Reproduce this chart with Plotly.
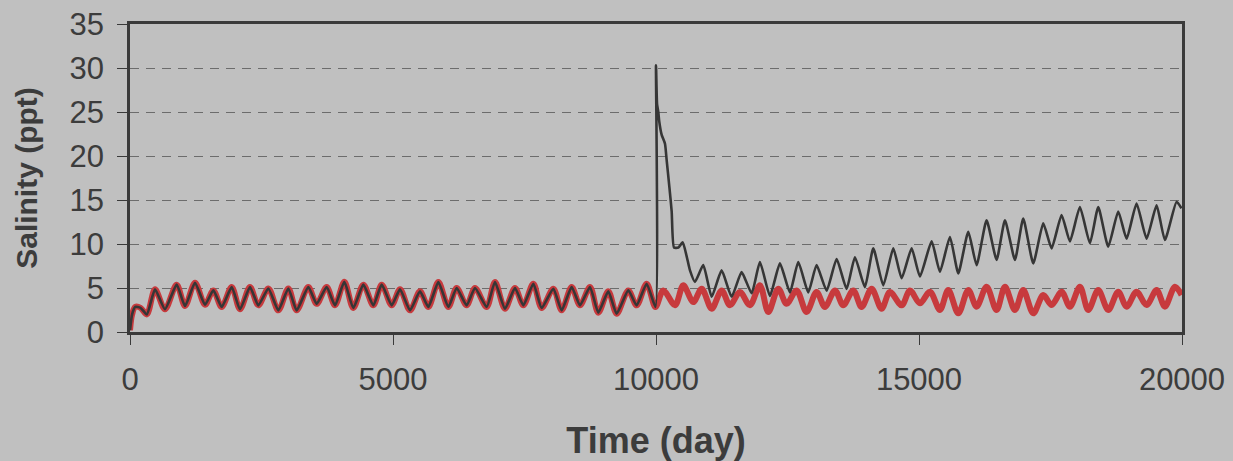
import plotly.graph_objects as go

# ---- data ----
t_first = [0, 40, 100, 200, 320, 475, 665, 887, 1046, 1236, 1426, 1584, 1743, 1933, 2091,
           2281, 2440, 2630, 2820, 3010, 3168, 3390, 3549, 3739, 3897, 4075, 4245, 4436,
           4626, 4785, 4975, 5133, 5323, 5513, 5672, 5862, 6052, 6210, 6400, 6559, 6781,
           6939, 7129, 7319, 7478, 7668, 7826, 8048, 8206, 8396, 8555, 8745, 8903, 9093,
           9252, 9473, 9632, 9822, 9990]
s_first = [0.2, 2.0, 2.85, 2.75, 2.0, 4.85, 2.58, 5.38, 2.95, 5.6, 3.1, 4.73, 2.84, 5.1, 2.58,
           5.1, 3.03, 4.95, 2.46, 4.95, 2.46, 5.1, 3.2, 5.1, 3.03, 5.7, 2.73, 5.38,
           3.03, 5.38, 3.03, 4.85, 2.46, 4.62, 2.84, 5.68, 2.84, 5.0, 3.03, 5.0, 2.84,
           5.68, 2.65, 5.0, 3.03, 5.49, 2.73, 4.92, 2.46, 5.11, 3.03, 5.11, 2.2, 4.62,
           2.08, 4.73, 3.03, 5.49, 2.84]

t_black2 = [10000, 10020, 10044, 10060, 10108, 10171, 10203, 10254, 10298, 10342, 10425,
            10508, 10583, 10646, 10741, 10899, 11058, 11248, 11438, 11628, 11818, 11976,
            12166, 12356, 12546, 12705, 12895, 13053, 13244, 13434, 13624, 13782, 13972,
            14131, 14321, 14511, 14670, 14860, 15018, 15240, 15398, 15588, 15747, 15937,
            16095, 16285, 16475, 16634, 16824, 16982, 17172, 17362, 17521, 17711, 17869,
            18059, 18249, 18408, 18598, 18788, 18947, 19136, 19327, 19517, 19675, 19897,
            19990]
s_black2 = [30.3, 25.9, 25.0, 24.0, 22.4, 21.4, 19.5, 16.5, 13.7, 9.6, 9.6,
            10.2, 8.6, 7.0, 5.7, 7.6, 4.0, 7.0, 4.0, 6.8, 4.4, 7.95,
            4.1, 7.8, 4.5, 7.95, 4.5, 7.6, 4.7, 8.3, 4.9, 8.5, 5.1,
            9.5, 5.3, 9.5, 6.1, 9.5, 6.3, 10.3, 6.85, 10.8, 6.66, 11.4,
            7.6, 12.7, 8.2, 12.7, 8.2, 12.9, 7.8, 12.35, 9.5, 13.3, 10.3,
            14.2, 10.1, 14.2, 9.7, 13.7, 10.6, 14.6, 10.6, 14.4, 10.45, 14.8,
            14.05]

t_red2 = [10139, 10361, 10519, 10709, 10868, 11058, 11248, 11406, 11596, 11786, 11976,
          12135, 12325, 12483, 12673, 12863, 13053, 13212, 13402, 13560, 13750, 13909,
          14099, 14289, 14447, 14670, 14828, 15018, 15208, 15398, 15556, 15747, 15937,
          16095, 16285, 16475, 16634, 16824, 16982, 17172, 17362, 17521, 17711, 17869,
          18059, 18218, 18408, 18598, 18788, 18947, 19136, 19327, 19517, 19675, 19865,
          19992]
s_red2 = [4.73, 3.03, 5.3, 3.4, 4.92, 2.65, 4.73, 3.03, 4.55, 3.03, 5.3,
          2.27, 4.92, 3.2, 4.73, 2.27, 4.55, 2.84, 4.73, 3.03, 4.73, 2.84,
          4.92, 2.65, 4.55, 3.03, 4.73, 3.26, 4.58, 2.5, 4.77, 2.12, 4.77,
          2.88, 5.15, 2.5, 5.15, 2.5, 4.77, 2.12, 4.2, 3.07, 4.58, 2.88,
          5.15, 2.5, 4.77, 2.5, 4.58, 2.88, 4.58, 3.07, 4.77, 2.88, 5.15,
          4.2]

y_ticks = [0, 5, 10, 15, 20, 25, 30, 35]
x_ticks = [0, 5000, 10000, 15000, 20000]

TEXT = "#3c3c3c"
BG = "#c0c0c0"
FONT = "Liberation Sans, Arial, sans-serif"

fig = go.Figure()
fig.add_trace(go.Scatter(
    x=t_first + t_red2, y=s_first + s_red2, mode="lines",
    line=dict(color="#c73a3d", width=6, shape="spline", smoothing=0.9),
    showlegend=False, name="red"))
fig.add_trace(go.Scatter(
    x=t_first + t_black2, y=s_first + s_black2, mode="lines",
    line=dict(color="#363636", width=2.6, shape="spline", smoothing=0.5),
    showlegend=False, name="black"))

fig.update_layout(
    width=1233, height=461,
    paper_bgcolor=BG, plot_bgcolor=BG,
    margin=dict(l=130, r=51, t=24, b=129),
    font=dict(family=FONT, color=TEXT),
    xaxis=dict(
        range=[0, 20000], tickvals=x_ticks, ticktext=[str(v) for v in x_ticks],
        showgrid=False, zeroline=False, automargin=False,
        showline=True, linecolor="#3a3a3a", linewidth=2.5, mirror=True,
        ticks="outside", ticklen=10, tickwidth=1, tickcolor="#3a3a3a",
        tickfont=dict(size=31, color=TEXT), ticklabelstandoff=8,
        title=dict(text="<b>Time (day)</b>", font=dict(size=36, color=TEXT), standoff=34),
    ),
    yaxis=dict(
        range=[0, 35], tickvals=y_ticks, ticktext=[str(v) for v in y_ticks],
        showgrid=True, gridcolor="#6c6c6c", gridwidth=1.3, griddash="9px,7px",
        zeroline=False, automargin=False,
        showline=True, linecolor="#3a3a3a", linewidth=2.5, mirror=True,
        ticks="outside", ticklen=10, tickwidth=1, tickcolor="#3a3a3a",
        tickfont=dict(size=31, color=TEXT), ticklabelstandoff=7,
        title=dict(text="<b>Salinity (ppt)</b>", font=dict(size=30, color=TEXT), standoff=24),
    ),
)

fig.write_html("out.html")
